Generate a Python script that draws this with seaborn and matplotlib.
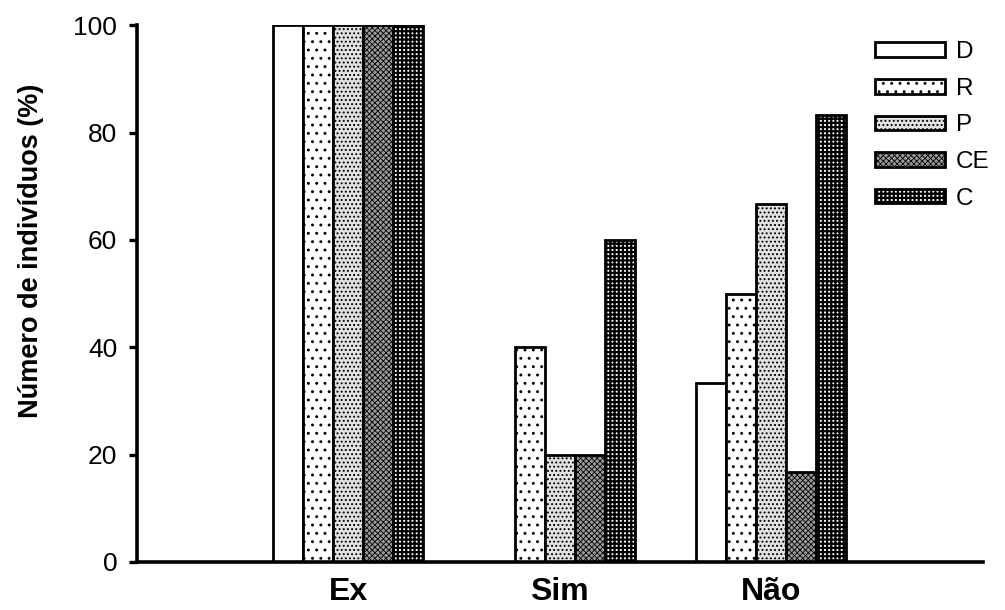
import matplotlib
matplotlib.use("Agg")
import matplotlib.pyplot as plt
import seaborn as sns
import pandas as pd

# Percentage of individuals per response category and group
categorias = ["Ex", "Sim", "Não"]
grupos = ["D", "R", "P", "CE", "C"]
valores_D = [100, 0, 33.3]
valores_R = [100, 40, 50]
valores_P = [100, 20, 66.7]
valores_CE = [100, 20, 16.7]
valores_C = [100, 60, 83.3]
yticks = [0, 20, 40, 60, 80, 100]

series = {"D": valores_D, "R": valores_R, "P": valores_P,
          "CE": valores_CE, "C": valores_C}
df = pd.DataFrame([
    {"categoria": cat, "grupo": g, "valor": v}
    for g in grupos for cat, v in zip(categorias, series[g])
])

sns.set_theme(style="white")
plt.rcParams["font.family"] = ["Liberation Sans", "DejaVu Sans"]
plt.rcParams["hatch.linewidth"] = 0.9
plt.rcParams["hatch.color"] = "black"
plt.rcParams["text.color"] = "black"
plt.rcParams["axes.labelcolor"] = "black"
plt.rcParams["xtick.color"] = "black"
plt.rcParams["ytick.color"] = "black"

# fill, texture and texture weight for each group
faces = {"D": "white", "R": "white", "P": "#e2e2e2", "CE": "#9a9a9a", "C": "white"}
hatches = {"D": "", "R": "..", "P": "....", "CE": "xxxxxx", "C": "++++"}
hatch_lw = {"D": 0.9, "R": 0.9, "P": 0.9, "CE": 0.6, "C": 1.6}

fig = plt.figure(figsize=(10.05, 6.10), dpi=100)
ax = fig.add_axes([0.136, 0.0787, 0.842, 0.880])

sns.barplot(data=df, x="categoria", y="valor", hue="grupo",
            order=categorias, hue_order=grupos, palette=faces,
            width=0.71, saturation=1, edgecolor="black", linewidth=2.0,
            errorbar=None, legend=False, ax=ax)

for g, cont in zip(grupos, ax.containers):
    for bar in cont:
        bar.set_facecolor(faces[g])
        bar.set_hatch(hatches[g])
        bar.set_edgecolor("black")
        bar.set_linewidth(2.0)
        if hasattr(bar, "set_hatch_linewidth"):
            bar.set_hatch_linewidth(hatch_lw[g])

ax.set_xlim(-1, 3)
ax.set_ylim(0, 100)
ax.set_yticks(yticks)
ax.set_xlabel("")
ax.set_ylabel("Número de indivíduos (%)", fontsize=19.5, fontweight="bold",
              color="black")
ax.yaxis.set_label_coords(-0.11, 0.58)

for side in ("top", "right"):
    ax.spines[side].set_visible(False)
for side in ("left", "bottom"):
    ax.spines[side].set_linewidth(2.6)
    ax.spines[side].set_color("black")

ax.tick_params(axis="y", direction="out", length=6, width=2.4,
               labelsize=19, pad=8, colors="black", left=True)
ax.tick_params(axis="x", length=0, pad=11, labelsize=23, labelcolor="black")
for lbl in ax.get_xticklabels():
    lbl.set_fontweight("bold")

leg = ax.legend(ax.containers, grupos, loc="upper left",
                bbox_to_anchor=(0.873, 0.97), frameon=False, fontsize=17.5,
                handlelength=2.85, handleheight=0.55, handletextpad=0.45,
                labelspacing=0.6, borderpad=0, borderaxespad=0,
                labelcolor="black")
for g, h in zip(grupos, leg.legend_handles):
    if hasattr(h, "set_hatch_linewidth"):
        h.set_hatch_linewidth(hatch_lw[g])

fig.savefig("out.png", dpi=100)
